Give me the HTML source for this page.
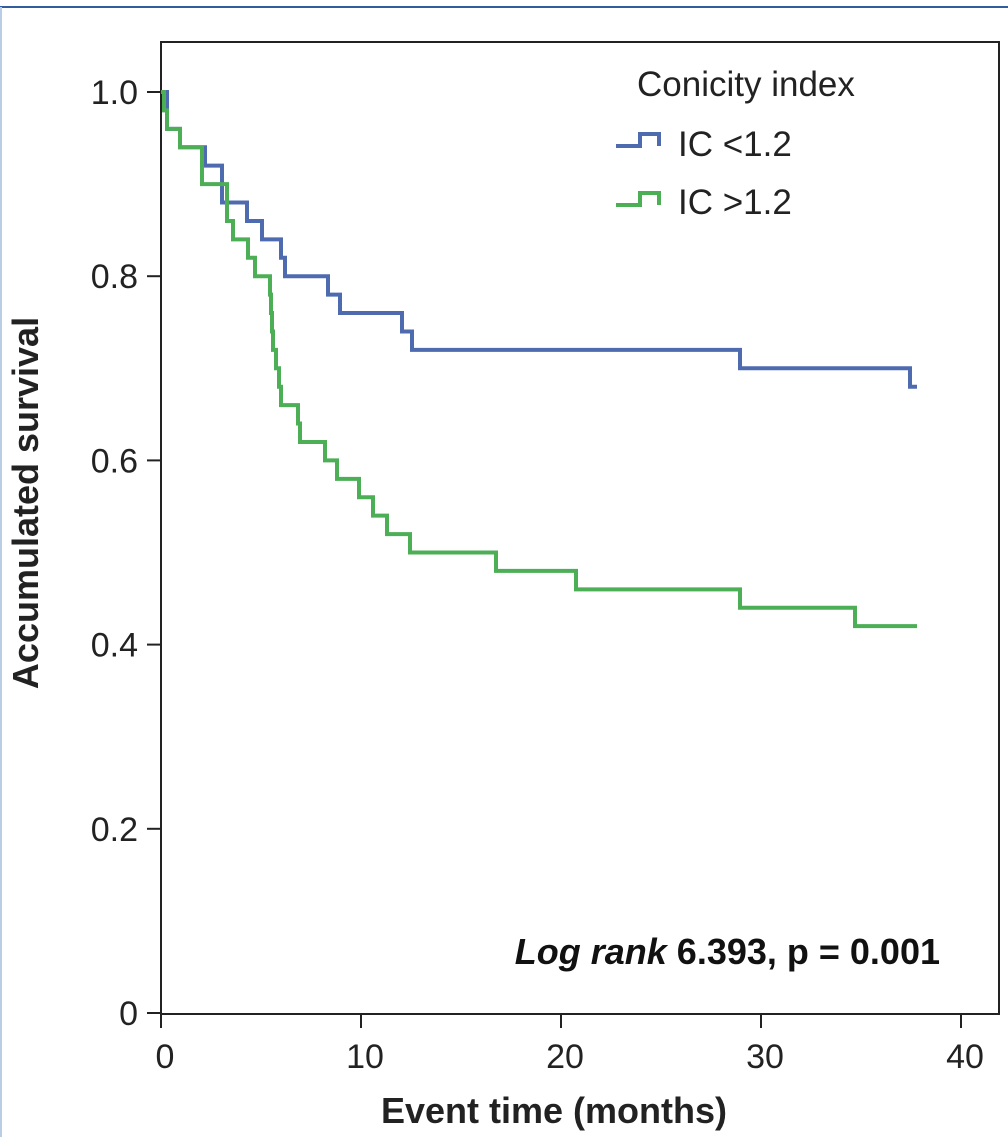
<!DOCTYPE html>
<html><head><meta charset="utf-8"><style>
body{margin:0;background:#fff;}
svg{display:block;font-family:"Liberation Sans",sans-serif;}
</style></head><body>
<svg width="1008" height="1137" viewBox="0 0 1008 1137">
<rect x="0" y="0" width="1008" height="1137" fill="#fff"/>
<line x1="0" y1="7" x2="1008" y2="7" stroke="#2f5d9e" stroke-width="2"/>
<line x1="1" y1="7" x2="1" y2="1137" stroke="#b9cde6" stroke-width="2"/>
<rect x="161" y="42" width="838" height="972" fill="none" stroke="#222" stroke-width="2"/>
<g id="yaxis"></g>
<g id="xaxis"></g>
<g id="series"></g>
<text x="38" y="503" transform="rotate(-90 38 503)" text-anchor="middle" font-size="36" font-weight="bold" fill="#222">Accumulated survival</text>
<text x="554" y="1123" text-anchor="middle" font-size="36" font-weight="bold" fill="#222">Event time (months)</text>
<text x="940" y="964" text-anchor="end" font-size="36" font-weight="bold" fill="#111"><tspan font-style="italic">Log rank</tspan> 6.393, p = 0.001</text>
<g>
<text x="637" y="96" font-size="35" fill="#222">Conicity index</text>
<path d="M616 146 H640 V134 H659 V146" fill="none" stroke="#4e6bb0" stroke-width="4"/>
<text x="678" y="156" font-size="35" fill="#222">IC &lt;1.2</text>
<path d="M616 205 H640 V193 H659 V205" fill="none" stroke="#4caf56" stroke-width="4"/>
<text x="678" y="214" font-size="35" fill="#222">IC &gt;1.2</text>
</g>
</svg>
<script>
const yTicks=[0,0.2,0.4,0.6,0.8,1.0];
const yTickLabels=["0","0.2","0.4","0.6","0.8","1.0"];
const xTicks=[0,10,20,30,40];
const xTickLabels=["0","10","20","30","40"];
const lowTimes=[0,0.3,0.95,2.2,3.05,4.3,5.05,6.0,6.2,8.35,8.95,12.05,12.55,28.95,37.45];
const lowSurv=[1.0,0.96,0.94,0.92,0.88,0.86,0.84,0.82,0.80,0.78,0.76,0.74,0.72,0.70,0.68];
const lowEnd=37.8;
const highTimes=[0,0.15,0.3,0.95,2.05,3.3,3.6,4.35,4.7,5.45,5.5,5.55,5.6,5.75,5.9,6.0,6.85,6.95,8.2,8.8,9.9,10.6,11.3,12.45,16.75,20.75,28.95,34.7];
const highSurv=[1.0,0.98,0.96,0.94,0.90,0.86,0.84,0.82,0.80,0.78,0.76,0.74,0.72,0.70,0.68,0.66,0.64,0.62,0.60,0.58,0.56,0.54,0.52,0.50,0.48,0.46,0.44,0.42];
const highEnd=37.8;
const NS="http://www.w3.org/2000/svg";
const xs=t=>161+t*20;
const ys=v=>1013-921*v;
const ya=document.getElementById('yaxis');
yTicks.forEach((v,i)=>{
 const l=document.createElementNS(NS,'line');
 l.setAttribute('x1',147);l.setAttribute('x2',161);l.setAttribute('y1',ys(v));l.setAttribute('y2',ys(v));
 l.setAttribute('stroke','#222');l.setAttribute('stroke-width',2);
 
 
 ya.appendChild(l);
 const t=document.createElementNS(NS,'text');
 t.setAttribute('x',138);t.setAttribute('y',ys(v)+12);t.setAttribute('text-anchor','end');
 t.setAttribute('font-size',34);t.setAttribute('fill','#222');t.textContent=yTickLabels[i];
 
 
 ya.appendChild(t);
});
const xa=document.getElementById('xaxis');
xTicks.forEach((v,i)=>{
 const l=document.createElementNS(NS,'line');
 l.setAttribute('x1',xs(v));l.setAttribute('x2',xs(v));l.setAttribute('y1',1013);l.setAttribute('y2',1028);
 l.setAttribute('stroke','#222');l.setAttribute('stroke-width',2);
 
 
 xa.appendChild(l);
 const t=document.createElementNS(NS,'text');
 t.setAttribute('x',xs(v)+4);t.setAttribute('y',1068);t.setAttribute('text-anchor','middle');
 t.setAttribute('font-size',34);t.setAttribute('fill','#222');t.textContent=xTickLabels[i];
 
 
 xa.appendChild(t);
});
function stepPath(times,surv,end){
 let d='M'+xs(times[0])+' '+ys(surv[0]);
 for(let i=1;i<times.length;i++){d+=' H'+xs(times[i])+' V'+ys(surv[i]);}
 d+=' H'+xs(end);
 return d;
}
const sg=document.getElementById('series');
const p1=document.createElementNS(NS,'path');
p1.setAttribute('d',stepPath(lowTimes,lowSurv,lowEnd));
p1.setAttribute('fill','none');p1.setAttribute('stroke','#4e6bb0');p1.setAttribute('stroke-width',4);


sg.appendChild(p1);
const p2=document.createElementNS(NS,'path');
p2.setAttribute('d',stepPath(highTimes,highSurv,highEnd));
p2.setAttribute('fill','none');p2.setAttribute('stroke','#4caf56');p2.setAttribute('stroke-width',4);


sg.appendChild(p2);
</script>
</body></html>
